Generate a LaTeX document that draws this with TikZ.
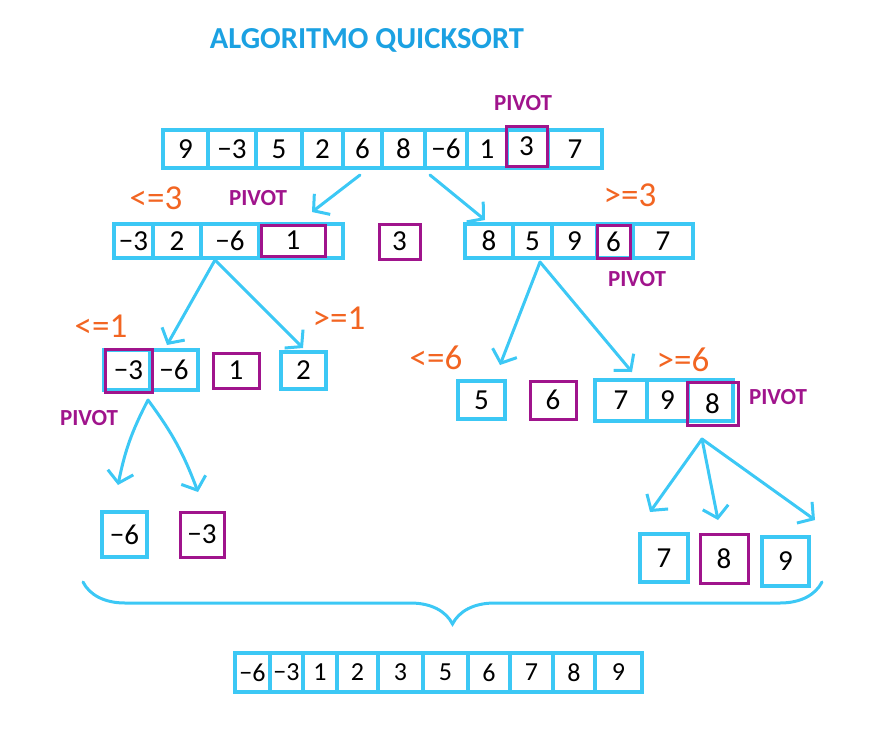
\documentclass[tikz,border=0pt]{standalone}
\usepackage{fontspec}
\setmainfont{Carlito}
\usepackage{tikz}
\usetikzlibrary{arrows.meta, decorations.pathreplacing}
\definecolor{mycyan}{RGB}{60,200,245}
\definecolor{mypurple}{RGB}{160,20,140}
\definecolor{myorange}{RGB}{242,101,34}
\definecolor{mytitle}{RGB}{27,161,226}
\tikzset{
  cell/.style={rectangle, draw=mycyan, line width=3.5pt, inner sep=0pt,
    minimum height=38pt, font=\fontsize{29}{31}\selectfont},
  pivotbox/.style={rectangle, draw=mypurple, line width=3pt, inner sep=0pt,
    font=\fontsize{29}{31}\selectfont},
  pivotlabel/.style={font=\fontsize{23}{25}\selectfont\bfseries, color=mypurple},
  cond/.style={font=\fontsize{35}{37}\selectfont, color=myorange},
  arrow/.style={-{Straight Barb[length=11pt, width=26pt]}, line width=3pt,
    color=mycyan, line cap=round},
  bigbrace/.style={decorate, decoration={brace, amplitude=42pt, mirror},
    line width=3pt, color=mycyan, line cap=round}
}

\begin{document}
\begin{tikzpicture}[x=1pt, y=-1pt]
  \useasboundingbox (0,0) rectangle (883,737);

  % Title
  \node[font=\fontsize{30.5}{32}\selectfont\bfseries, color=mytitle] (title) at (367,40) {ALGORITMO QUICKSORT};

  % Initial array
  \foreach \l/\r/\v [count=\i] in {163/208/9, 208/256/−3, 256/302/5, 302/343/2, 343/382/6,
      382/425/8, 425/467/−6, 467/507/1, 507/548/{}, 548/602/7}
    \node[cell, minimum width=\r-\l] (top\i) at ({(\l+\r)/2},149) {\v};
  \node[pivotbox, minimum width=41pt, minimum height=40pt] (pivtop) at (526.5,146) {3};
  \node[pivotlabel] (plabtop) at (523,103) {PIVOT};

  % Left part (<=3)
  \foreach \l/\r/\v [count=\i] in {114/153/−3, 153/201/2, 201/259/−6, 259/343/{}}
    \node[cell, minimum width=\r-\l, minimum height=34pt] (left\i) at ({(\l+\r)/2},241) {\v};
  \node[pivotbox, minimum width=64pt, minimum height=31pt] (pivleft) at (293,240.5) {1};
  \node[pivotlabel] (plableft) at (258,198) {PIVOT};
  \node[cond] (condleft) at (156,198) {<=3};

  % Pivot 3
  \node[pivotbox, minimum width=41pt, minimum height=35pt] (three) at (399.5,241.5) {3};

  % Right part (>=3)
  \foreach \l/\r/\v [count=\i] in {465/513/8, 513/552/5, 552/597/9, 597/633/{}, 633/693/7}
    \node[cell, minimum width=\r-\l, minimum height=34pt] (right\i) at ({(\l+\r)/2},241) {\v};
  \node[pivotbox, minimum width=33pt, minimum height=33pt] (pivright) at (613.5,241.5) {6};
  \node[pivotlabel] (plabright) at (637,279) {PIVOT};
  \node[cond] (condright) at (630,195) {>=3};

  % Level 3, left
  \foreach \l/\r/\v [count=\i] in {104/150/{}, 150/198/−6}
    \node[cell, minimum width=\r-\l, minimum height=40pt] (ll\i) at ({(\l+\r)/2},370) {\v};
  \node[pivotbox, minimum width=47pt, minimum height=43pt] (pivll) at (128.5,370.5) {−3};
  \node[pivotlabel] (plabll) at (89,418) {PIVOT};
  \node[pivotbox, minimum width=46pt, minimum height=35pt] (one) at (236,370.5) {1};
  \node[cell, minimum width=45pt, minimum height=37pt] (two) at (303.5,370.5) {2};
  \node[cond] (condll) at (101,326) {<=1};
  \node[cond] (condlr) at (339,318) {>=1};

  % Level 3, right
  \node[cell, minimum width=47pt] (five) at (481.5,400) {5};
  \node[pivotbox, minimum width=46pt, minimum height=38pt] (six) at (553,400) {6};
  \foreach \l/\r/\v [count=\i] in {595/647/7, 647/688/9, 688/733/{}}
    \node[cell, minimum width=\r-\l, minimum height=41pt] (rr\i) at ({(\l+\r)/2},400.5) {\v};
  \node[pivotbox, minimum width=51pt, minimum height=43pt] (pivrr) at (712.5,403.5) {8};
  \node[pivotlabel] (plabrr) at (778,397) {PIVOT};
  \node[cond] (condrl) at (436,358) {<=6};
  \node[cond] (condrr) at (683,360) {>=6};

  % Level 4
  \node[cell, minimum width=45pt, minimum height=45pt] (minsix) at (124.5,534.5) {−6};
  \node[pivotbox, minimum width=44pt, minimum height=45pt] (minthree) at (202,534.5) {−3};
  \node[cell, minimum width=48pt, minimum height=48pt] (seven) at (664,558) {7};
  \node[pivotbox, minimum width=48pt, minimum height=49pt] (eight) at (724,558.5) {8};
  \node[cell, minimum width=47pt, minimum height=49pt] (nine) at (785.5,561.5) {9};

  % Arrow ends
  \coordinate (topA) at (360,175);
  \coordinate (topB) at (430,175);
  \coordinate (toLeft) at (312,212);
  \coordinate (toRight) at (485,220);
  \coordinate (leftA) at (215,260);
  \coordinate (toLL) at (167,345);
  \coordinate (toTwo) at (303,348);
  \coordinate (rightA) at (540,262);
  \coordinate (toFive) at (500,365);
  \coordinate (toRR) at (632,372);
  \coordinate (llA) at (148,400);
  \coordinate (toMinSix) at (118,485);
  \coordinate (toMinThree) at (198,492);
  \coordinate (rrA) at (702,439);
  \coordinate (toSeven) at (650,512);
  \coordinate (toEight) at (718,520);
  \coordinate (toNine) at (815,520);

  % Arrows
  \draw[arrow] (topA) -- (toLeft);
  \draw[arrow] (topB) -- (toRight);
  \draw[arrow] (leftA) -- (toLL);
  \draw[arrow] (leftA) -- (toTwo);
  \draw[arrow] (rightA) -- (toFive);
  \draw[arrow] (rightA) -- (toRR);
  \draw[arrow] (llA) to[bend right=8] (toMinSix);
  \draw[arrow] (llA) to[bend left=8] (toMinThree);
  \draw[arrow] (rrA) -- (toSeven);
  \draw[arrow] (rrA) -- (toEight);
  \draw[arrow] (rrA) -- (toNine);

  % Brace
  \coordinate (braceL) at (83,582);
  \coordinate (braceR) at (822,582);
  \draw[bigbrace] (braceL) -- (braceR);

  % Sorted array
  \foreach \l/\r/\v [count=\i] in {235/270/−6, 270/303/−3, 303/337/1, 337/378/2, 378/423/3,
      423/468/5, 468/510/6, 510/553/7, 553/595/8, 595/642/9}
    \node[cell, minimum width=\r-\l, minimum height=39pt, font=\fontsize{26}{28}\selectfont]
      (sorted\i) at ({(\l+\r)/2},672.5) {\v};
\end{tikzpicture}
\end{document}
